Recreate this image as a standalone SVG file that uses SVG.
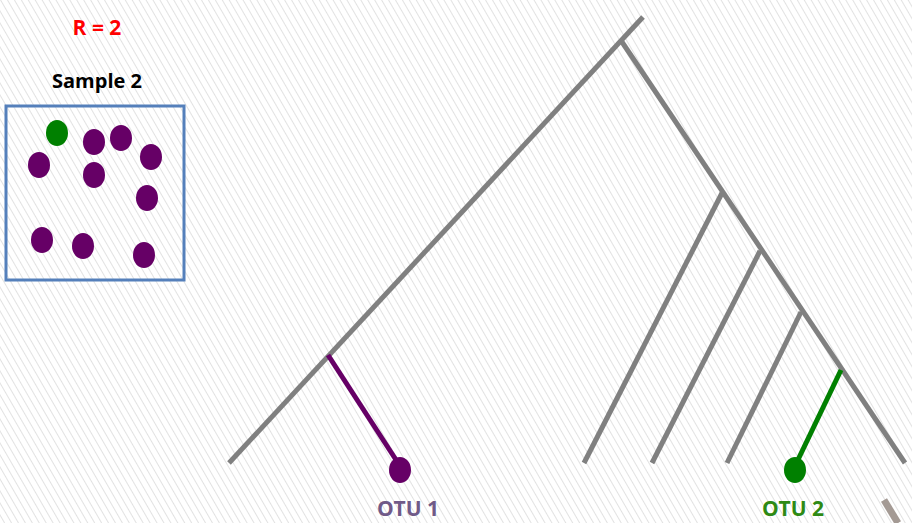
<svg xmlns="http://www.w3.org/2000/svg" width="912" height="523" viewBox="0 0 912 523">
<defs>
<pattern id="hatch" width="6" height="6" patternUnits="userSpaceOnUse" patternTransform="rotate(-30)">
<rect width="6" height="6" fill="#ffffff"/>
<line x1="0" y1="0" x2="0" y2="6" stroke="#e2e2e2" stroke-width="2"/>
</pattern>
<style>
.br{stroke:#808080;stroke-width:5;fill:none}
.pu{fill:#660066}
.gr{fill:#008000}
.lbl{font-family:"Open Sans","Liberation Sans",sans-serif;font-weight:bold;text-anchor:middle}
</style>
</defs>
<rect width="912" height="523" fill="url(#hatch)"/>
<g id="header">
<text class="lbl" x="97" y="35" font-size="21" fill="#ff0000">R = 2</text>
<text class="lbl" x="97" y="88" font-size="20" fill="#000000">Sample 2</text>
</g>
<g id="sample2">
<rect x="6" y="106" width="178" height="174" fill="none" stroke="#5580bb" stroke-width="3"/>
<ellipse class="gr" cx="57" cy="133" rx="11" ry="13"/>
<ellipse class="pu" cx="94" cy="142" rx="11" ry="13"/>
<ellipse class="pu" cx="121" cy="138" rx="11" ry="13"/>
<ellipse class="pu" cx="151" cy="157" rx="11" ry="13"/>
<ellipse class="pu" cx="39" cy="165" rx="11" ry="13"/>
<ellipse class="pu" cx="94" cy="175" rx="11" ry="13"/>
<ellipse class="pu" cx="147" cy="198" rx="11" ry="13"/>
<ellipse class="pu" cx="42" cy="240" rx="11" ry="13"/>
<ellipse class="pu" cx="83" cy="246" rx="11" ry="13"/>
<ellipse class="pu" cx="144" cy="255" rx="11" ry="13"/>
</g>
<g id="connectors">
<line class="br" x1="643" y1="17" x2="229" y2="463"/>
<line class="br" x1="622" y1="42" x2="905" y2="463"/>
<line class="br" x1="722" y1="193" x2="584" y2="463"/>
<line class="br" x1="760" y1="251" x2="652" y2="463"/>
<line class="br" x1="801" y1="312" x2="727" y2="463"/>
<line x1="328" y1="355" x2="400" y2="466" stroke="#660066" stroke-width="5"/>
<line x1="841" y1="370" x2="795" y2="466" stroke="#008000" stroke-width="5"/>
<line x1="884" y1="500" x2="898" y2="523" stroke="#a49a94" stroke-width="7"/>
</g>
<g id="otu1">
<ellipse class="pu" cx="400" cy="470" rx="11" ry="13"/>
<text class="lbl" x="408" y="516" font-size="21" fill="#705a88">OTU 1</text>
</g>
<g id="otu2">
<ellipse class="gr" cx="795" cy="470" rx="11" ry="13"/>
<text class="lbl" x="793" y="516" font-size="21" fill="#2e8a14">OTU 2</text>
</g>
</svg>
